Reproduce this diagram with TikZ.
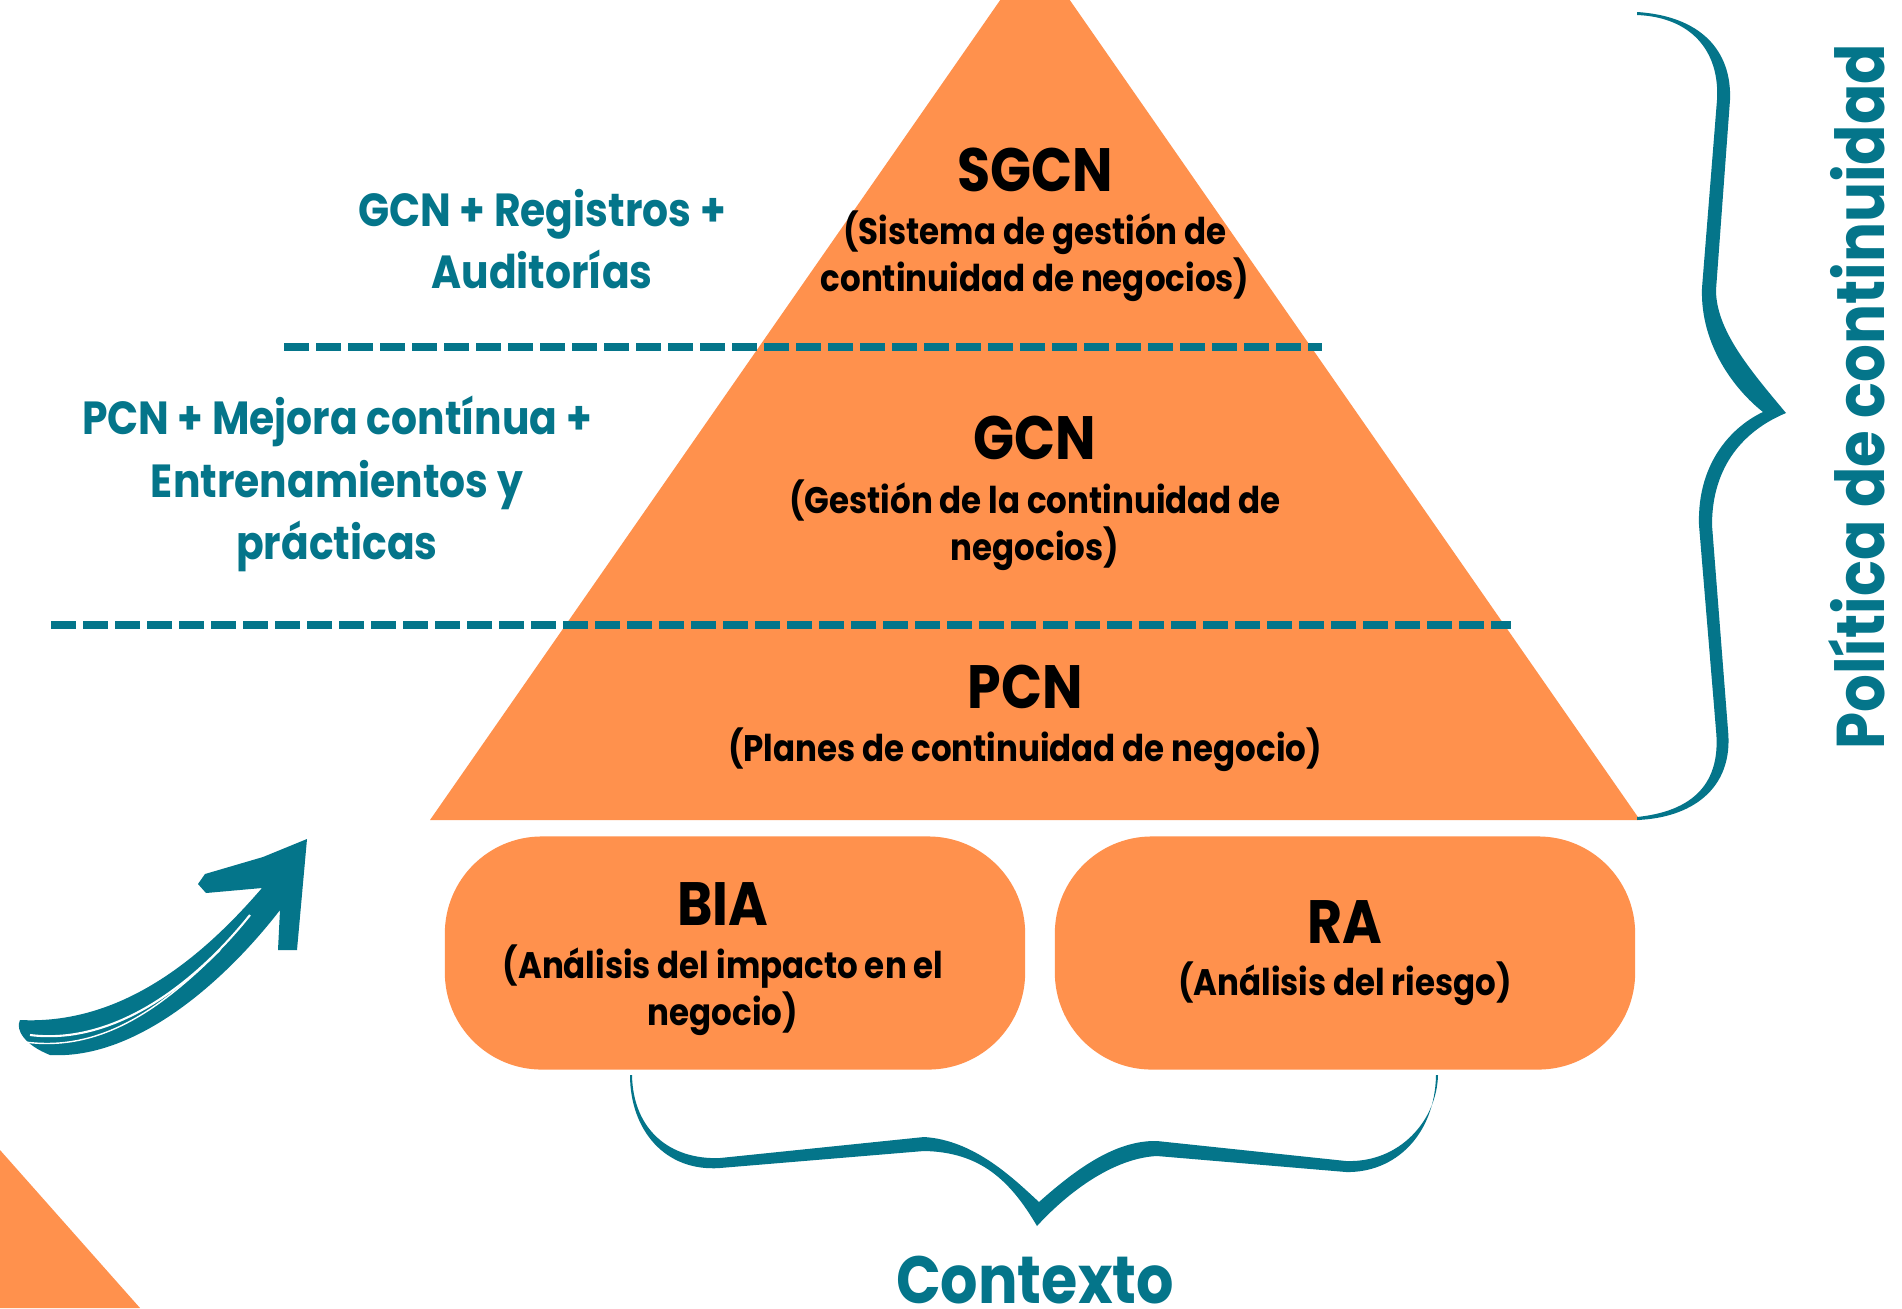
\documentclass[tikz,border=0pt]{standalone}
\usepackage{fontspec}
\setmainfont{Poppins}[FakeStretch=0.88]
\definecolor{naranja}{HTML}{FF914D}
\definecolor{verde}{HTML}{04758A}
\tikzset{
  titulo/.style={font=\fontsize{17.4}{20}\selectfont\bfseries, text=black},
  detalle/.style={font=\fontsize{10.5}{13.4}\selectfont\bfseries, align=center, text=black},
  lado/.style={font=\fontsize{13.2}{17.7}\selectfont\bfseries, align=center, text=verde},
  caja/.style={fill=naranja, rounded corners=0.97cm, minimum width=5.8cm, minimum height=2.33cm, inner sep=0pt},
  corte/.style={verde, line width=2.1pt, dash pattern=on 7.1pt off 2pt},
}
\begin{document}
\begin{tikzpicture}[x=0.01cm,y=-0.01cm]
\fill[white] (0,0) rectangle (1902,1308);
\useasboundingbox (0,0) rectangle (1902,1308);
\clip (0,0) rectangle (1902,1308);

% piramide
\fill[naranja] (1035,-50) -- (1640,820) -- (430,820) -- cycle;
\fill[naranja] (0,1150) -- (140,1308) -- (0,1308) -- cycle;

% niveles
\draw[corte] (284,347) -- (1322,347);
\draw[corte] (51,625) -- (1511,625);

\node[titulo] (sgcn) at (1035,170) {SGCN};
\node[detalle] (sgcnsub) at (1035,256) {(Sistema de gestión de\\continuidad de negocios)};
\node[titulo] (gcn) at (1035,438) {GCN};
\node[detalle] (gcnsub) at (1035,525) {(Gestión de la continuidad de\\negocios)};
\node[titulo] (pcn) at (1025,687) {PCN};
\node[detalle] (pcnsub) at (1025,750) {(Planes de continuidad de negocio)};

\node[lado] (arriba) at (542,239) {GCN + Registros +\\Auditorías};
\node[lado] (medio) at (337,484) {PCN + Mejora contínua +\\Entrenamientos y\\prácticas};

% cajas
\node[caja] (bia) at (735,953) {};
\node[caja] (ra) at (1345,953) {};
\node[titulo] (biatit) at (723,904) {BIA};
\node[detalle] (biasub) at (723,990) {(Análisis del impacto en el\\negocio)};
\node[titulo] (ratit) at (1345,922) {RA};
\node[detalle] (rasub) at (1345,984) {(Análisis del riesgo)};

% llave derecha
\fill[verde] (1637,12) .. controls (1700,16) and (1732,50) .. (1730,100)
  -- (1716,290) .. controls (1716,330) and (1750,370) .. (1786,413)
  .. controls (1745,430) and (1712,465) .. (1712,525)
  -- (1728,730) .. controls (1734,790) and (1690,818) .. (1637,820)
  -- (1637,817) .. controls (1685,812) and (1722,790) .. (1716,730)
  -- (1699,525) .. controls (1697,460) and (1735,425) .. (1763,412)
  .. controls (1735,390) and (1700,345) .. (1702,288)
  -- (1717,100) .. controls (1720,50) and (1690,17) .. (1637,15) -- cycle;
\node[text=verde, font=\fontsize{19.2}{22}\selectfont\bfseries, rotate=90, anchor=base, inner sep=0pt] (politica) at (1884,397) {Política de continuidad};

% llave inferior
\fill[verde] (632,1075) .. controls (633,1130) and (670,1160) .. (720,1158)
  -- (924,1137) .. controls (975,1140) and (1015,1180) .. (1039,1202)
  .. controls (1075,1170) and (1115,1140) .. (1157,1141)
  -- (1346,1161) .. controls (1400,1163) and (1437,1120) .. (1438,1075)
  -- (1436,1075) .. controls (1435,1135) and (1395,1173) .. (1346,1172)
  -- (1157,1156) .. controls (1115,1158) and (1070,1190) .. (1037,1226)
  .. controls (1010,1180) and (980,1152) .. (924,1151)
  -- (720,1168) .. controls (665,1172) and (630,1130) .. (630,1075) -- cycle;
\node[text=verde, font=\fontsize{19}{22}\selectfont\bfseries] (contexto) at (1035,1280) {Contexto};

% flecha
\fill[verde] (307,839) -- (263,857) -- (205,874) -- (198,884) -- (206,893) -- (262,888)
  .. controls (200,960) and (120,1025) .. (20,1020)
  .. controls (15,1030) and (25,1045) .. (50,1055)
  .. controls (140,1060) and (230,975) .. (280,910)
  -- (278,950) -- (297,950) -- cycle;
\draw[white, line width=0.6pt] (30,1035) .. controls (110,1045) and (190,990) .. (250,915);
\draw[white, line width=0.4pt] (25,1042) .. controls (100,1052) and (160,1010) .. (220,950);
\end{tikzpicture}
\end{document}
